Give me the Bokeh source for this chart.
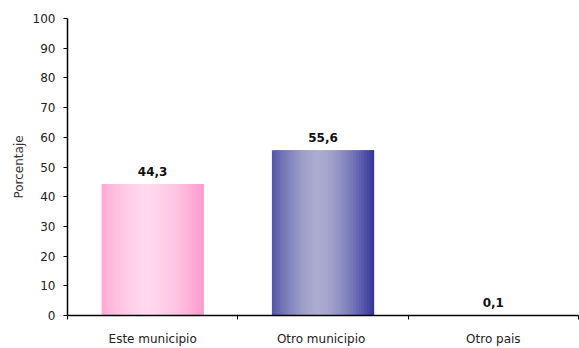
from bokeh.plotting import figure
from bokeh.models import FixedTicker, Range1d, ColumnDataSource
from bokeh.core.properties import value
from bokeh.embed import file_html
from bokeh.resources import INLINE

categories = ["Este municipio", "Otro  municipio", "Otro pais"]
values = [44.3, 55.6, 0.1]
value_labels = ["44,3", "55,6", "0,1"]
edge_colors = [(255, 153, 204), (51, 51, 153)]
center_colors = [(255, 216, 236), (172, 172, 208)]
y_ticks = [0, 10, 20, 30, 40, 50, 60, 70, 80, 90, 100]

FONT = "DejaVu Sans"
p = figure(width=579, height=348, output_backend="svg", toolbar_location=None,
           x_range=Range1d(0, 3), y_range=Range1d(0, 100),
           min_border_left=67, min_border_right=1, min_border_top=18, min_border_bottom=33)
p.outline_line_color = None
p.xgrid.visible = False
p.ygrid.visible = False
p.background_fill_color = "white"
p.border_fill_color = "white"

# gradient bars built from overlapping stripes
N = 40
bar_w = 0.6
xs_l, xs_r, tops, cols = [], [], [], []
for i, v in enumerate(values):
    ec = edge_colors[i % len(edge_colors)]
    cc = center_colors[i % len(center_colors)]
    left = i + 0.5 - bar_w / 2
    for k in range(N):
        t = (k + 0.5) / N
        d = abs(t - 0.45) / 0.55
        f = min(1.0, d) ** 1.6
        c = tuple(int(round(cc[j] + (ec[j] - cc[j]) * f)) for j in range(3))
        xs_l.append(left + bar_w * k / N)
        xs_r.append(left + bar_w * min(k + 2, N) / N)
        tops.append(v)
        cols.append("#%02x%02x%02x" % c)
p.quad(left=xs_l, right=xs_r, bottom=0, top=tops, fill_color=cols, line_color=None)

src = ColumnDataSource(dict(x=[i + 0.5 for i in range(len(values))], y=values, t=value_labels))
p.text(x="x", y="y", text="t", source=src, text_align="center", text_baseline="bottom",
       y_offset=-8, text_font=value(FONT), text_font_style="bold", text_font_size="12px",
       text_color="#111111")

p.yaxis.ticker = FixedTicker(ticks=y_ticks)
p.yaxis.axis_label = "Porcentaje"
p.yaxis.axis_label_text_font = FONT
p.yaxis.axis_label_text_font_size = "12px"
p.yaxis.axis_label_text_font_style = "normal"
p.yaxis.axis_label_text_color = "#333333"
p.yaxis.axis_label_standoff = 4
p.yaxis.major_label_text_font = FONT
p.yaxis.major_label_text_font_size = "12px"
p.yaxis.major_label_text_color = "#222222"
p.yaxis.major_label_standoff = 8
p.yaxis.axis_line_color = "black"
p.yaxis.axis_line_width = 1.5
p.yaxis.major_tick_out = 4
p.yaxis.major_tick_in = 0
p.yaxis.minor_tick_line_color = None

p.xaxis.ticker = FixedTicker(ticks=[0.5, 1.5, 2.5], minor_ticks=[0, 1, 2, 3])
p.xaxis.major_label_overrides = {i + 0.5: c for i, c in enumerate(categories)}
p.xaxis.major_tick_line_color = None
p.xaxis.minor_tick_out = 4
p.xaxis.minor_tick_in = 0
p.xaxis.minor_tick_line_color = "black"
p.xaxis.axis_line_color = "black"
p.xaxis.axis_line_width = 1.5
p.xaxis.major_label_text_font = FONT
p.xaxis.major_label_text_font_size = "12px"
p.xaxis.major_label_text_color = "#222222"
p.xaxis.major_label_standoff = 10

open("out.html", "w").write(file_html(p, INLINE))
